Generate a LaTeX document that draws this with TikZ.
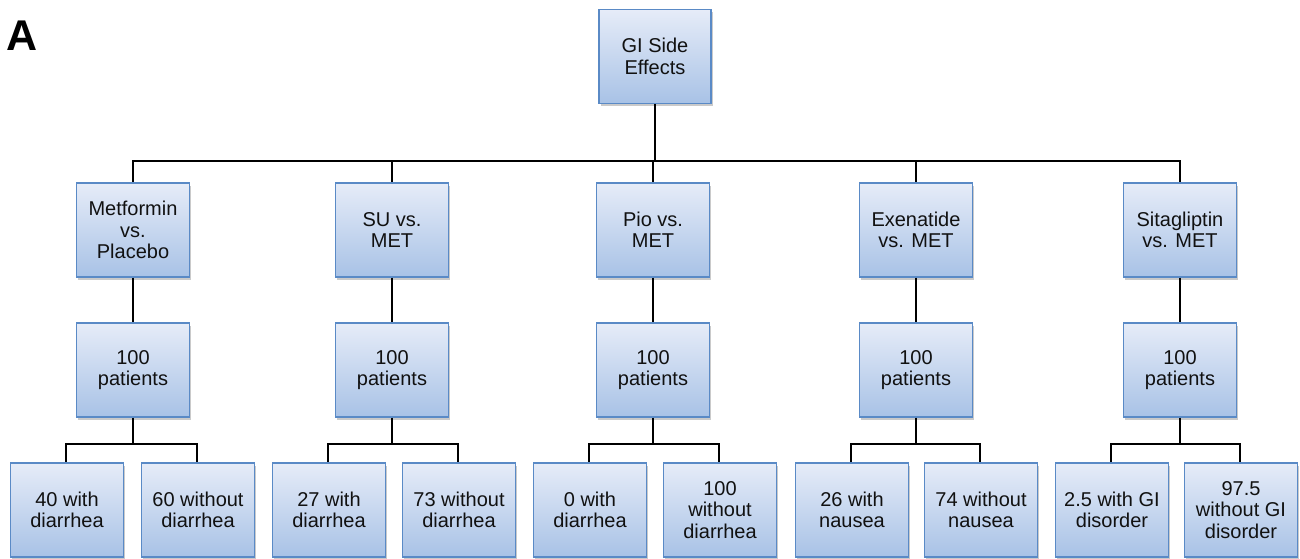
\documentclass[tikz,border=0pt]{standalone}
\usepackage{fontspec}
\setmainfont{Liberation Sans}
\usetikzlibrary{shadows}
\definecolor{boxtop}{HTML}{E6ECF8}
\definecolor{boxbot}{HTML}{A8C2E6}
\definecolor{boxline}{HTML}{5A8AC6}
\definecolor{txt}{HTML}{111111}
\begin{document}
\begin{tikzpicture}[x=1pt,y=-1pt,
  box/.style={draw=boxline, line width=1.4pt, top color=boxtop, bottom color=boxbot,
    minimum width=113pt, minimum height=94pt, align=center, text=txt,
    font=\fontsize{20}{21.5}\selectfont, inner sep=1pt,
    drop shadow={shadow xshift=1.5pt, shadow yshift=-2.5pt, opacity=0.35, fill=black!60}},
  conn/.style={line width=2.2pt, black}]
\useasboundingbox (0,0) rectangle (1300,559);
\node[font=\fontsize{43}{43}\selectfont\bfseries, anchor=west] (lab) at (3,36) {A};
% top
\node[box, minimum width=112pt] (top) at (655,56.5) {GI Side\\Effects};
% level 2
\node[box] (g1) at (133,230) {Metformin\\vs.\\Placebo};
\node[box] (g2) at (392,230) {SU vs.\\MET};
\node[box] (g3) at (653,230) {Pio vs.\\MET};
\node[box] (g4) at (916,230) {Exenatide\\vs. MET};
\node[box] (g5) at (1180,230) {Sitagliptin\\vs. MET};
% level 3
\foreach \i/\x in {1/133,2/392,3/653,4/916,5/1180}
  \node[box] (p\i) at (\x,370) {100\\patients};
% leaves
\node[box] (l1a) at (67,510) {40 with\\diarrhea};
\node[box] (l1b) at (198,510) {60 without\\diarrhea};
\node[box] (l2a) at (329,510) {27 with\\diarrhea};
\node[box] (l2b) at (459,510) {73 without\\diarrhea};
\node[box] (l3a) at (590,510) {0 with\\diarrhea};
\node[box] (l3b) at (720,510) {100\\without\\diarrhea};
\node[box] (l4a) at (852,510) {26 with\\nausea};
\node[box] (l4b) at (981,510) {74 without\\nausea};
\node[box] (l5a) at (1112,510) {2.5 with GI\\disorder};
\node[box] (l5b) at (1241,510) {97.5\\without GI\\disorder};
% connectors
\coordinate (bus) at (655,161);
\draw[conn] (top.south) -- (bus);
\foreach \i in {1,...,5} {
  \draw[conn] (bus) -| (g\i.north);
  \draw[conn] (g\i.south) -- (p\i.north);
  \draw[conn] (p\i.south) -- ++(0,26) coordinate (b\i);
  \draw[conn] (b\i) -| ([xshift=-1pt]l\i a.north);
  \draw[conn] (b\i) -| ([xshift=-1pt]l\i b.north);
}
\end{tikzpicture}
\end{document}
